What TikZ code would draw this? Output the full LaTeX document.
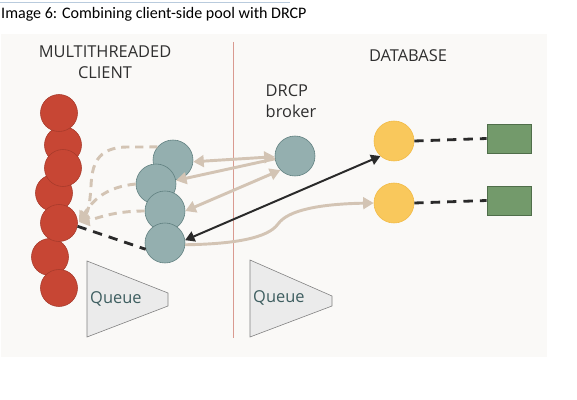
\documentclass[tikz,border=0pt]{standalone}
\usepackage{fontspec}
\setmainfont{Open Sans}
\newfontfamily\capfont{Carlito}
\usetikzlibrary{arrows.meta,positioning}

\definecolor{panel}{HTML}{FAF9F7}
\definecolor{threadfill}{HTML}{C74634}
\definecolor{threadline}{HTML}{A83A2B}
\definecolor{poolfill}{HTML}{94AFAF}
\definecolor{poolline}{HTML}{5F7F7F}
\definecolor{serverfill}{HTML}{F9C85C}
\definecolor{serverline}{HTML}{F2BA45}
\definecolor{sessionfill}{HTML}{739A6B}
\definecolor{sessionline}{HTML}{4F6E4A}
\definecolor{tanline}{HTML}{D3C4B4}
\definecolor{ink}{HTML}{2A2A2A}
\definecolor{divider}{HTML}{D99A90}
\definecolor{queuetext}{HTML}{3E5E60}
\definecolor{labeltext}{HTML}{2F2F2F}
\definecolor{rule}{HTML}{B9CBDD}

\tikzset{
  threadball/.style={circle,fill=threadfill,draw=threadline,line width=.5pt,minimum size=1.11cm,inner sep=0pt},
  poolball/.style={circle,fill=poolfill,draw=poolline,line width=.5pt,minimum size=1.2cm,inner sep=0pt},
  serverball/.style={circle,fill=serverfill,draw=serverline,line width=.5pt,minimum size=1.2cm,inner sep=0pt},
  sessionbox/.style={rectangle,fill=sessionfill,draw=sessionline,line width=.6pt,minimum width=1.32cm,minimum height=.87cm,inner sep=0pt},
  queueshape/.style={fill=black!8,draw=black!50,line width=.5pt},
  label/.style={text=labeltext,font=\fontsize{14}{17}\selectfont,inner sep=0pt},
  tanarrow/.style={draw=tanline,line width=2.5pt,-{Triangle[length=9pt,width=10pt]}},
  tandash/.style={tanarrow,dash pattern=on 7pt off 5pt},
  inkarrow/.style={draw=ink,line width=1.7pt,{Triangle[length=8pt,width=9pt]}-{Triangle[length=8pt,width=9pt]}},
  linkdash/.style={draw=ink,line width=2.4pt,dash pattern=on 8pt off 6pt}
}

\begin{document}
\begin{tikzpicture}[x=0.03cm,y=-0.03cm]
	\useasboundingbox (0,0) rectangle (577,400);
	\fill[panel] (1,34) rectangle (547,357);
	\draw[rule,line width=.6pt] (0,2) -- (290,2);
	\node[anchor=west,inner sep=0pt,font=\capfont\fontsize{13.7}{16}\selectfont] (caption) at (1,14) {Image 6: Combining client-side pool with DRCP};
	\draw[divider,line width=.5pt] (233,42) -- (233,338);

	% headings
	\node[label,align=center] (clienthead) at (105,62) {MULTITHREADED\\[1pt]CLIENT};
	\node[label] (dbhead) at (408,56) {DATABASE};
	\node[label,align=left] (brokerhead) at (291,101) {DRCP\\[1pt]broker};

	% queues
	\draw[queueshape] (87,261) -- (168,293) -- (168,306) -- (87,337) -- cycle;
	\node[label,text=queuetext,anchor=west] (qclient) at (90,299) {Queue};
	\draw[queueshape] (250,260) -- (332,296) -- (332,306) -- (250,337) -- cycle;
	\node[label,text=queuetext,anchor=west] (qbroker) at (253,298) {Queue};

	% application threads
	\foreach \i/\x/\y in {2/63/145,1/59/113,4/54/193,3/63/168,6/50/257,5/59/223,7/59/288}
		\node[threadball] (t\i) at (\x,\y) {};

	% client-side pool
	\foreach \i/\x/\y in {1/173/160,2/156/184,3/165/211,4/165/243}
		\node[poolball] (p\i) at (\x,\y) {};

	\node[poolball] (broker) at (295,156) {};
	\node[serverball] (srv1) at (394,141) {};
	\node[serverball] (srv2) at (394,203) {};
	\node[sessionbox] (ses1) at (509,138.5) {};
	\node[sessionbox] (ses2) at (509,200.5) {};

	% returns to the thread
	\coordinate (back) at (79,222);
	\draw[tandash] (p1.140) -- (128,147) .. controls (96,147) and (92,166) .. (91,186) .. controls (90,204) and (88,212) .. (back);
	\draw[tandash] (p2.west) .. controls (106,187) and (93,200) .. (back);
	\draw[tandash] (p3.west) .. controls (112,211) and (96,219) .. (back);
	\draw[linkdash] (t5.-10) -- (p4.198);

	% broker traffic
	\draw[tanarrow,{Triangle[length=9pt,width=10pt]}-{Triangle[length=9pt,width=10pt]}] (p1.-5) -- (broker.182);
	\draw[tanarrow] (broker.188) -- (p2.10);
	\draw[tanarrow,{Triangle[length=9pt,width=10pt]}-{Triangle[length=9pt,width=10pt]}] (p3.east) -- (broker.224);
	\draw[inkarrow] (p4.8) -- (srv1.228);
	\draw[tanarrow] (p4.-5) .. controls (235,244) and (268,238) .. (278,224) .. controls (288,210) and (320,204) .. (srv2.west);

	% sessions
	\draw[linkdash] (srv1.east) -- (ses1.west);
	\draw[linkdash] (srv2.east) -- (ses2.west);
\end{tikzpicture}
\end{document}
